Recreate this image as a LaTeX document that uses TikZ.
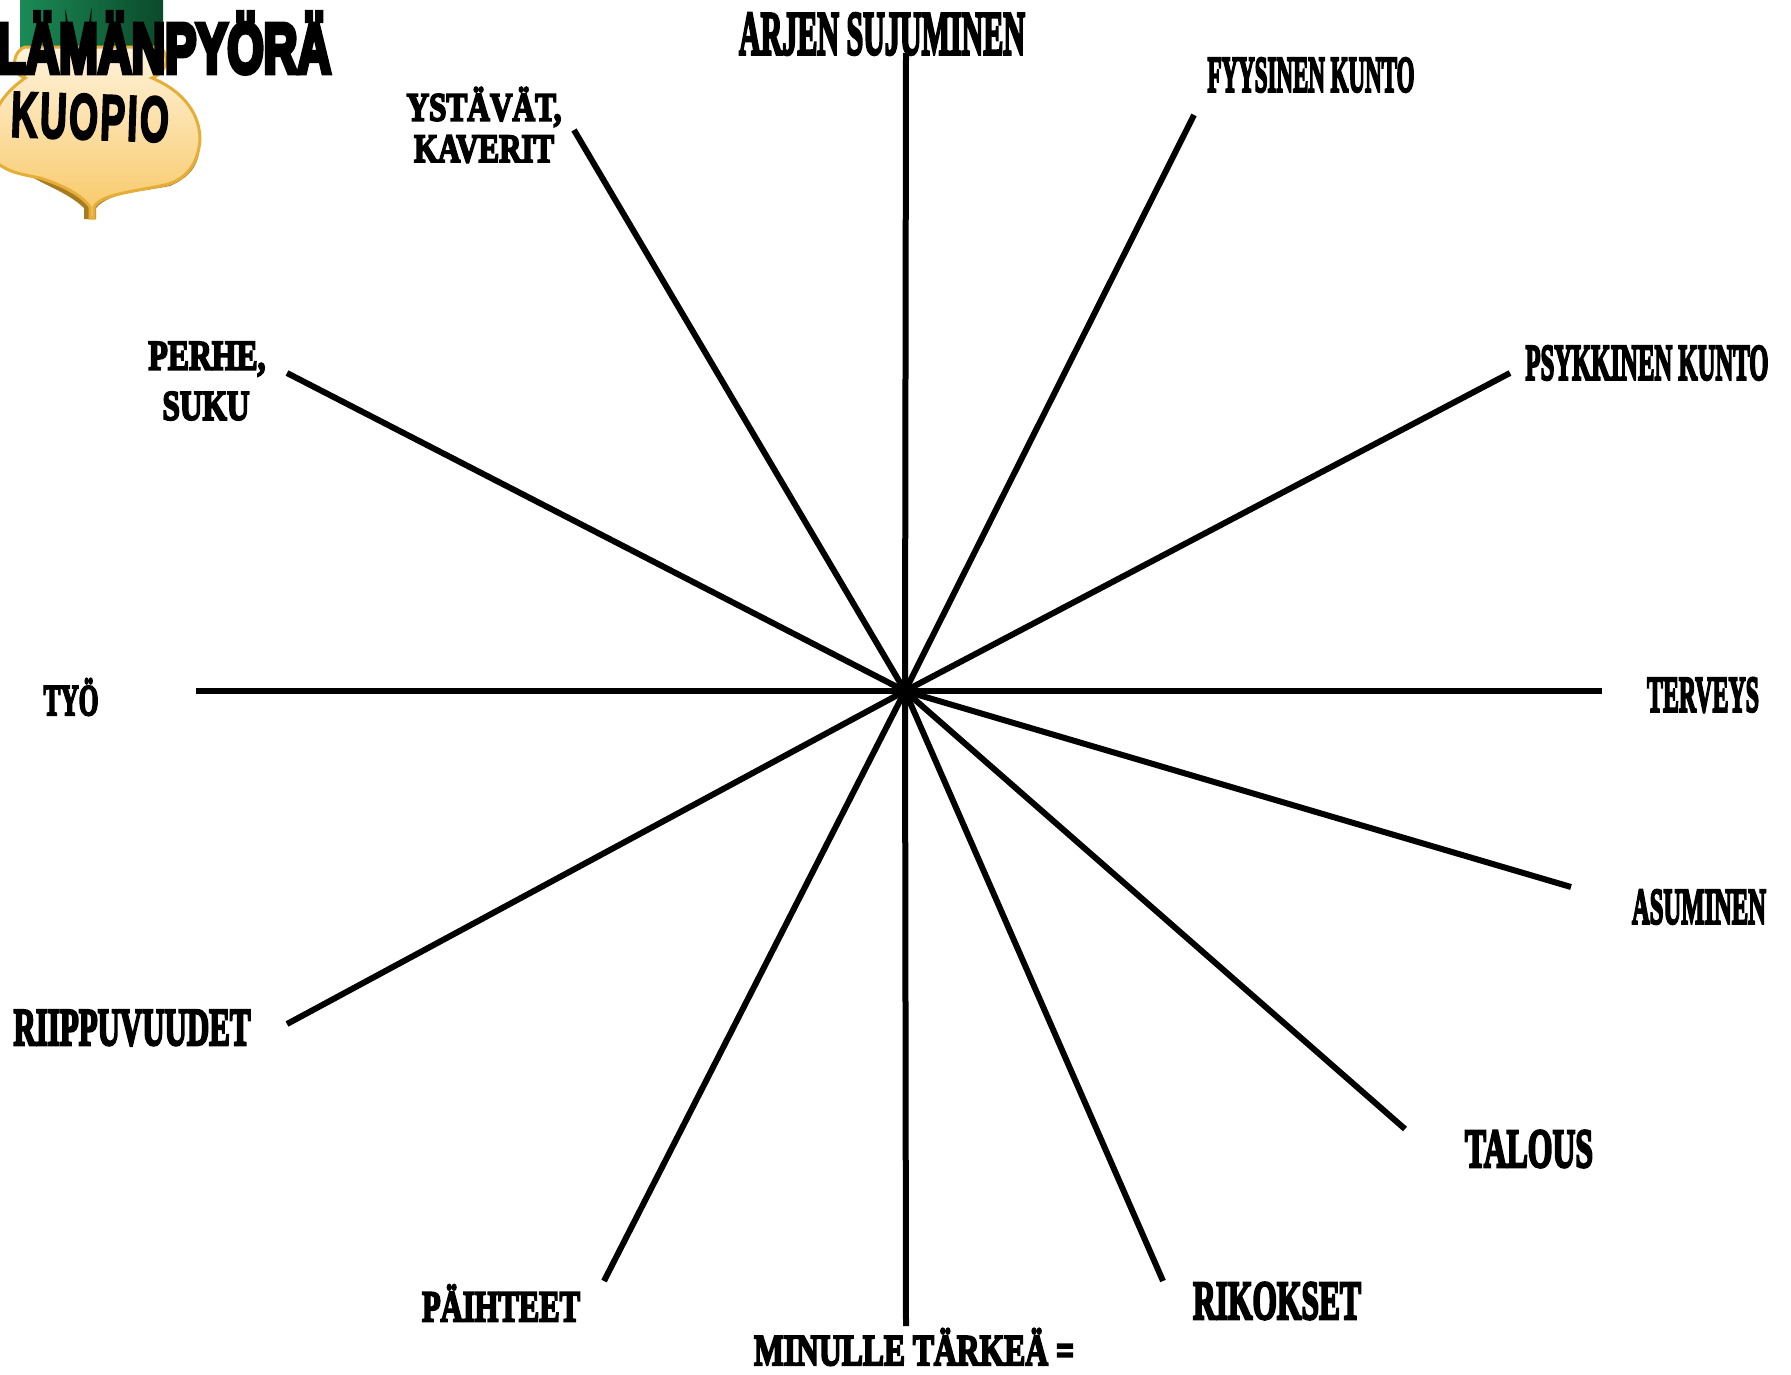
\documentclass[tikz,border=0pt]{standalone}
\usepackage{fontspec}
\usepackage{graphicx}
\setmainfont{Liberation Serif}
\newfontfamily\labfont[FakeBold=5]{Liberation Serif Bold}
\newfontfamily\titlefont[FakeBold=8]{Liberation Sans Bold}
\newfontfamily\logofont[FakeBold=4,LetterSpace=6]{Liberation Sans Bold}
\definecolor{greenL}{HTML}{1B8A55}
\definecolor{greenR}{HTML}{0B4A2B}
\definecolor{goldT}{HTML}{FFF3DC}
\definecolor{goldM}{HTML}{FEDD92}
\definecolor{goldB}{HTML}{F8C865}
\definecolor{goldE}{HTML}{E5AE38}
\definecolor{goldD}{HTML}{A67C22}
\newsavebox\fitbox
% #1 target width (px), #2 font size, #3 text
\newcommand\fit[3]{{\fontsize{#2}{#2}\selectfont\sbox\fitbox{#3}\pgfmathsetmacro\xsc{#1/(\wd\fitbox)}\scalebox{\xsc}[1]{\usebox\fitbox}}}
\tikzset{
  spoke/.style={line width=6pt,black},
  lab/.style={inner sep=0pt,outer sep=0pt,anchor=center,align=center,font=\labfont,text=black},
  ttl/.style={inner sep=0pt,outer sep=0pt,anchor=center,font=\titlefont,text=black}
}
\begin{document}
\begin{tikzpicture}[x=1pt,y=-1pt]
\useasboundingbox (0,0) rectangle (1791,1374);
\clip (0,0) rectangle (1791,1374);
\fill[white] (0,0) rectangle (1791,1374);
% logo
\shade[left color=greenL,right color=greenR] (20,0) rectangle (163,50);
\def\shieldpath{(90,218) -- (90,207) .. controls (82,195) and (62,185) .. (40,178)
  .. controls (20,174) and (5,172) .. (-8,158)
  .. controls (-12,120) and (-5,100) .. (25,78)
  .. controls (8,72) and (14,50) .. (25,47) -- (160,47)
  .. controls (170,55) and (168,72) .. (152,78)
  .. controls (185,92) and (200,115) .. (200,140)
  .. controls (198,165) and (185,182) .. (160,186)
  .. controls (130,192) and (100,195) .. (94,207) -- (94,218) -- cycle}
\fill[goldD] (0,150) .. controls (20,180) and (60,185) .. (84,208) -- (84,219) -- (96,219) -- (96,208)
  .. controls (110,192) and (140,192) .. (170,186) .. controls (195,175) and (200,160) .. (200,140) -- cycle;
\shade[top color=goldT,middle color=goldM,bottom color=goldB,draw=goldE,line width=3pt] \shieldpath;
\node[inner sep=0pt,font=\logofont,text=black] (logotext) at (90,117) {\rotatebox{-2}{\fit{158}{64}{KUOPIO}}};
% title
\node[ttl] (title) at (164,43) {\fit{334}{70}{LÄMÄNPYÖRÄ}};
% spokes
\coordinate (c) at (905,691);
\coordinate (e1) at (906,53);   \coordinate (e2) at (1194,115);
\coordinate (e3) at (1510,373); \coordinate (e4) at (1602,691);
\coordinate (e5) at (1571,887); \coordinate (e6) at (1405,1129);
\coordinate (e7) at (1163,1281);\coordinate (e8) at (906,1326);
\coordinate (e9) at (604,1281); \coordinate (e10) at (287,1024);
\coordinate (e11) at (196,691); \coordinate (e12) at (287,373);
\coordinate (e13) at (574,130);
\foreach \i in {1,...,13} {\draw[spoke] (c) -- (e\i);}
% labels
\node[lab] (n1) at (882,34) {\fit{286}{62}{ARJEN SUJUMINEN}};
\node[lab] (n2) at (1311,75) {\fit{207}{51}{FYYSINEN KUNTO}};
\node[lab] (n3) at (1647,363) {\fit{243}{51}{PSYKKINEN KUNTO}};
\node[lab] (n4) at (1703,695) {\fit{112}{51}{TERVEYS}};
\node[lab] (n5) at (1699,907) {\fit{134}{51}{ASUMINEN}};
\node[lab] (n6) at (1529,1149) {\fit{128}{55}{TALOUS}};
\node[lab] (n7) at (1277,1301) {\fit{168}{55}{RIKOKSET}};
\node[lab] (n8) at (914,1347) {\fit{320}{44}{MINULLE TÄRKEÄ =}};
\node[lab] (n9) at (501,1303) {\fit{158}{44}{PÄIHTEET}};
\node[lab] (n10) at (132,1028) {\fit{237}{53}{RIIPPUVUUDET}};
\node[lab] (n11) at (71,697) {\fit{55}{44}{TYÖ}};
\node[lab] (n12a) at (207,359) {\fit{117}{42}{PERHE,}};
\node[lab] (n12b) at (206,406) {\fit{87}{42}{SUKU}};
\node[lab] (n13a) at (484,107) {\fit{155}{40}{YSTÄVÄT,}};
\node[lab] (n13b) at (484,149) {\fit{140}{40}{KAVERIT}};
\end{tikzpicture}
\end{document}
